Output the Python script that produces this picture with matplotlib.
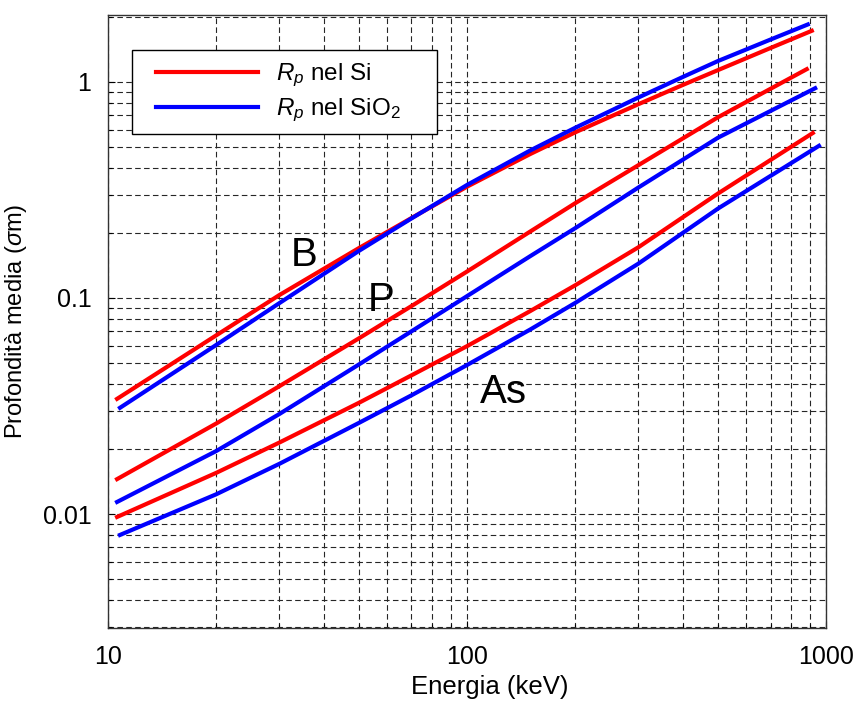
import matplotlib
matplotlib.use("Agg")
import matplotlib.pyplot as plt
from matplotlib.patches import Rectangle

plt.rcParams['font.family'] = ['Liberation Sans', 'DejaVu Sans']
plt.rcParams['mathtext.fontset'] = 'custom'
plt.rcParams['mathtext.rm'] = 'Liberation Sans'
plt.rcParams['mathtext.it'] = 'Liberation Sans:italic'

# Projected range Rp (um) versus implant energy (keV)
E_B_Si = [10.6, 20, 30, 50, 70, 100, 150, 200, 300, 400, 500, 700, 912]
R_B_Si = [0.0341, 0.0670, 0.1030, 0.170, 0.234, 0.327, 0.463, 0.583, 0.787, 0.968, 1.132, 1.432, 1.72]
E_B_SiO2 = [10.8, 20, 30, 50, 70, 100, 150, 200, 300, 400, 500, 700, 889]
R_B_SiO2 = [0.0310, 0.0605, 0.0945, 0.165, 0.233, 0.333, 0.481, 0.612, 0.845, 1.054, 1.247, 1.567, 1.84]

E_P_Si = [10.6, 20, 30, 50, 70, 100, 150, 200, 300, 500, 883]
R_P_Si = [0.0145, 0.0262, 0.0390, 0.0650, 0.0916, 0.1324, 0.2028, 0.274, 0.411, 0.685, 1.143]
E_P_SiO2 = [10.6, 20, 30, 50, 70, 100, 150, 200, 300, 500, 932]
R_P_SiO2 = [0.01137, 0.01954, 0.0290, 0.0492, 0.0700, 0.1019, 0.156, 0.210, 0.324, 0.551, 0.933]

E_As_Si = [10.6, 20, 30, 50, 70, 100, 150, 200, 300, 500, 918]
R_As_Si = [0.00969, 0.01549, 0.0214, 0.0327, 0.0438, 0.0598, 0.0869, 0.1143, 0.1714, 0.304, 0.579]
E_As_SiO2 = [10.8, 20, 30, 50, 70, 100, 150, 200, 300, 500, 955]
R_As_SiO2 = [0.0080, 0.01233, 0.01706, 0.0264, 0.0354, 0.0489, 0.0714, 0.0947, 0.144, 0.259, 0.505]

species = ["B", "P", "As"]
species_pos = [(35.2, 0.158), (57.5, 0.098), (126, 0.0368)]

legend_labels = [r"$R_p$ nel Si", r"$R_p$ nel SiO$_2$"]
x_ticks = [10, 100, 1000]
x_ticklabels = ["10", "100", "1000"]
y_ticks = [0.01, 0.1, 1]
y_ticklabels = ["0.01", "0.1", "1"]

fig = plt.figure(figsize=(8.57, 7.04), dpi=100)
ax = fig.add_axes([0.126, 0.108, 0.838, 0.871])

lw = 3.0
red, blue = "#ff0000", "#0000ff"
l1, = ax.plot(E_B_Si, R_B_Si, color=red, lw=lw)
l2, = ax.plot(E_B_SiO2, R_B_SiO2, color=blue, lw=lw)
ax.plot(E_P_Si, R_P_Si, color=red, lw=lw)
ax.plot(E_P_SiO2, R_P_SiO2, color=blue, lw=lw)
ax.plot(E_As_Si, R_As_Si, color=red, lw=lw)
ax.plot(E_As_SiO2, R_As_SiO2, color=blue, lw=lw)

ax.set_xscale("log")
ax.set_yscale("log")
ax.set_xlim(10, 1000)
ax.set_ylim(0.00297, 2.04)

ax.set_xticks(x_ticks)
ax.set_xticklabels(x_ticklabels)
ax.set_yticks(y_ticks)
ax.set_yticklabels(y_ticklabels)
ax.tick_params(which="both", direction="in", labelsize=18, pad=12)
ax.tick_params(which="major", length=5, width=0.8)
ax.tick_params(which="minor", length=3, width=0.8)

ax.grid(True, which="both", color="0.15", linestyle=(0, (5, 3)), linewidth=0.8)
ax.set_axisbelow(True)

for s in ax.spines.values():
    s.set_linewidth(1.0)
    s.set_color("0.2")

for name, (xe, yr) in zip(species, species_pos):
    ax.text(xe, yr, name, fontsize=29, ha="center", va="center", color="black")

ax.set_xlabel("Energia (keV)", fontsize=18.5)
ax.xaxis.set_label_coords(0.531, -0.077)
ax.set_ylabel(r"Profondità media ($\sigma$m)", fontsize=17, labelpad=10)

# legend box drawn separately so the padding can be set on each side
box = Rectangle((0.0334, 0.806), 0.4246, 0.137, transform=ax.transAxes,
                facecolor="white", edgecolor="black", linewidth=1.0, zorder=4)
ax.add_patch(box)
leg = ax.legend([l1, l2], legend_labels, loc="upper left",
                bbox_to_anchor=(0.0669, 0.923), borderaxespad=0,
                fontsize=17.5, handlelength=4.2, handletextpad=0.74,
                borderpad=0.0, labelspacing=0.3, frameon=False)
leg.set_zorder(5)

fig.savefig("out.png", dpi=100)
